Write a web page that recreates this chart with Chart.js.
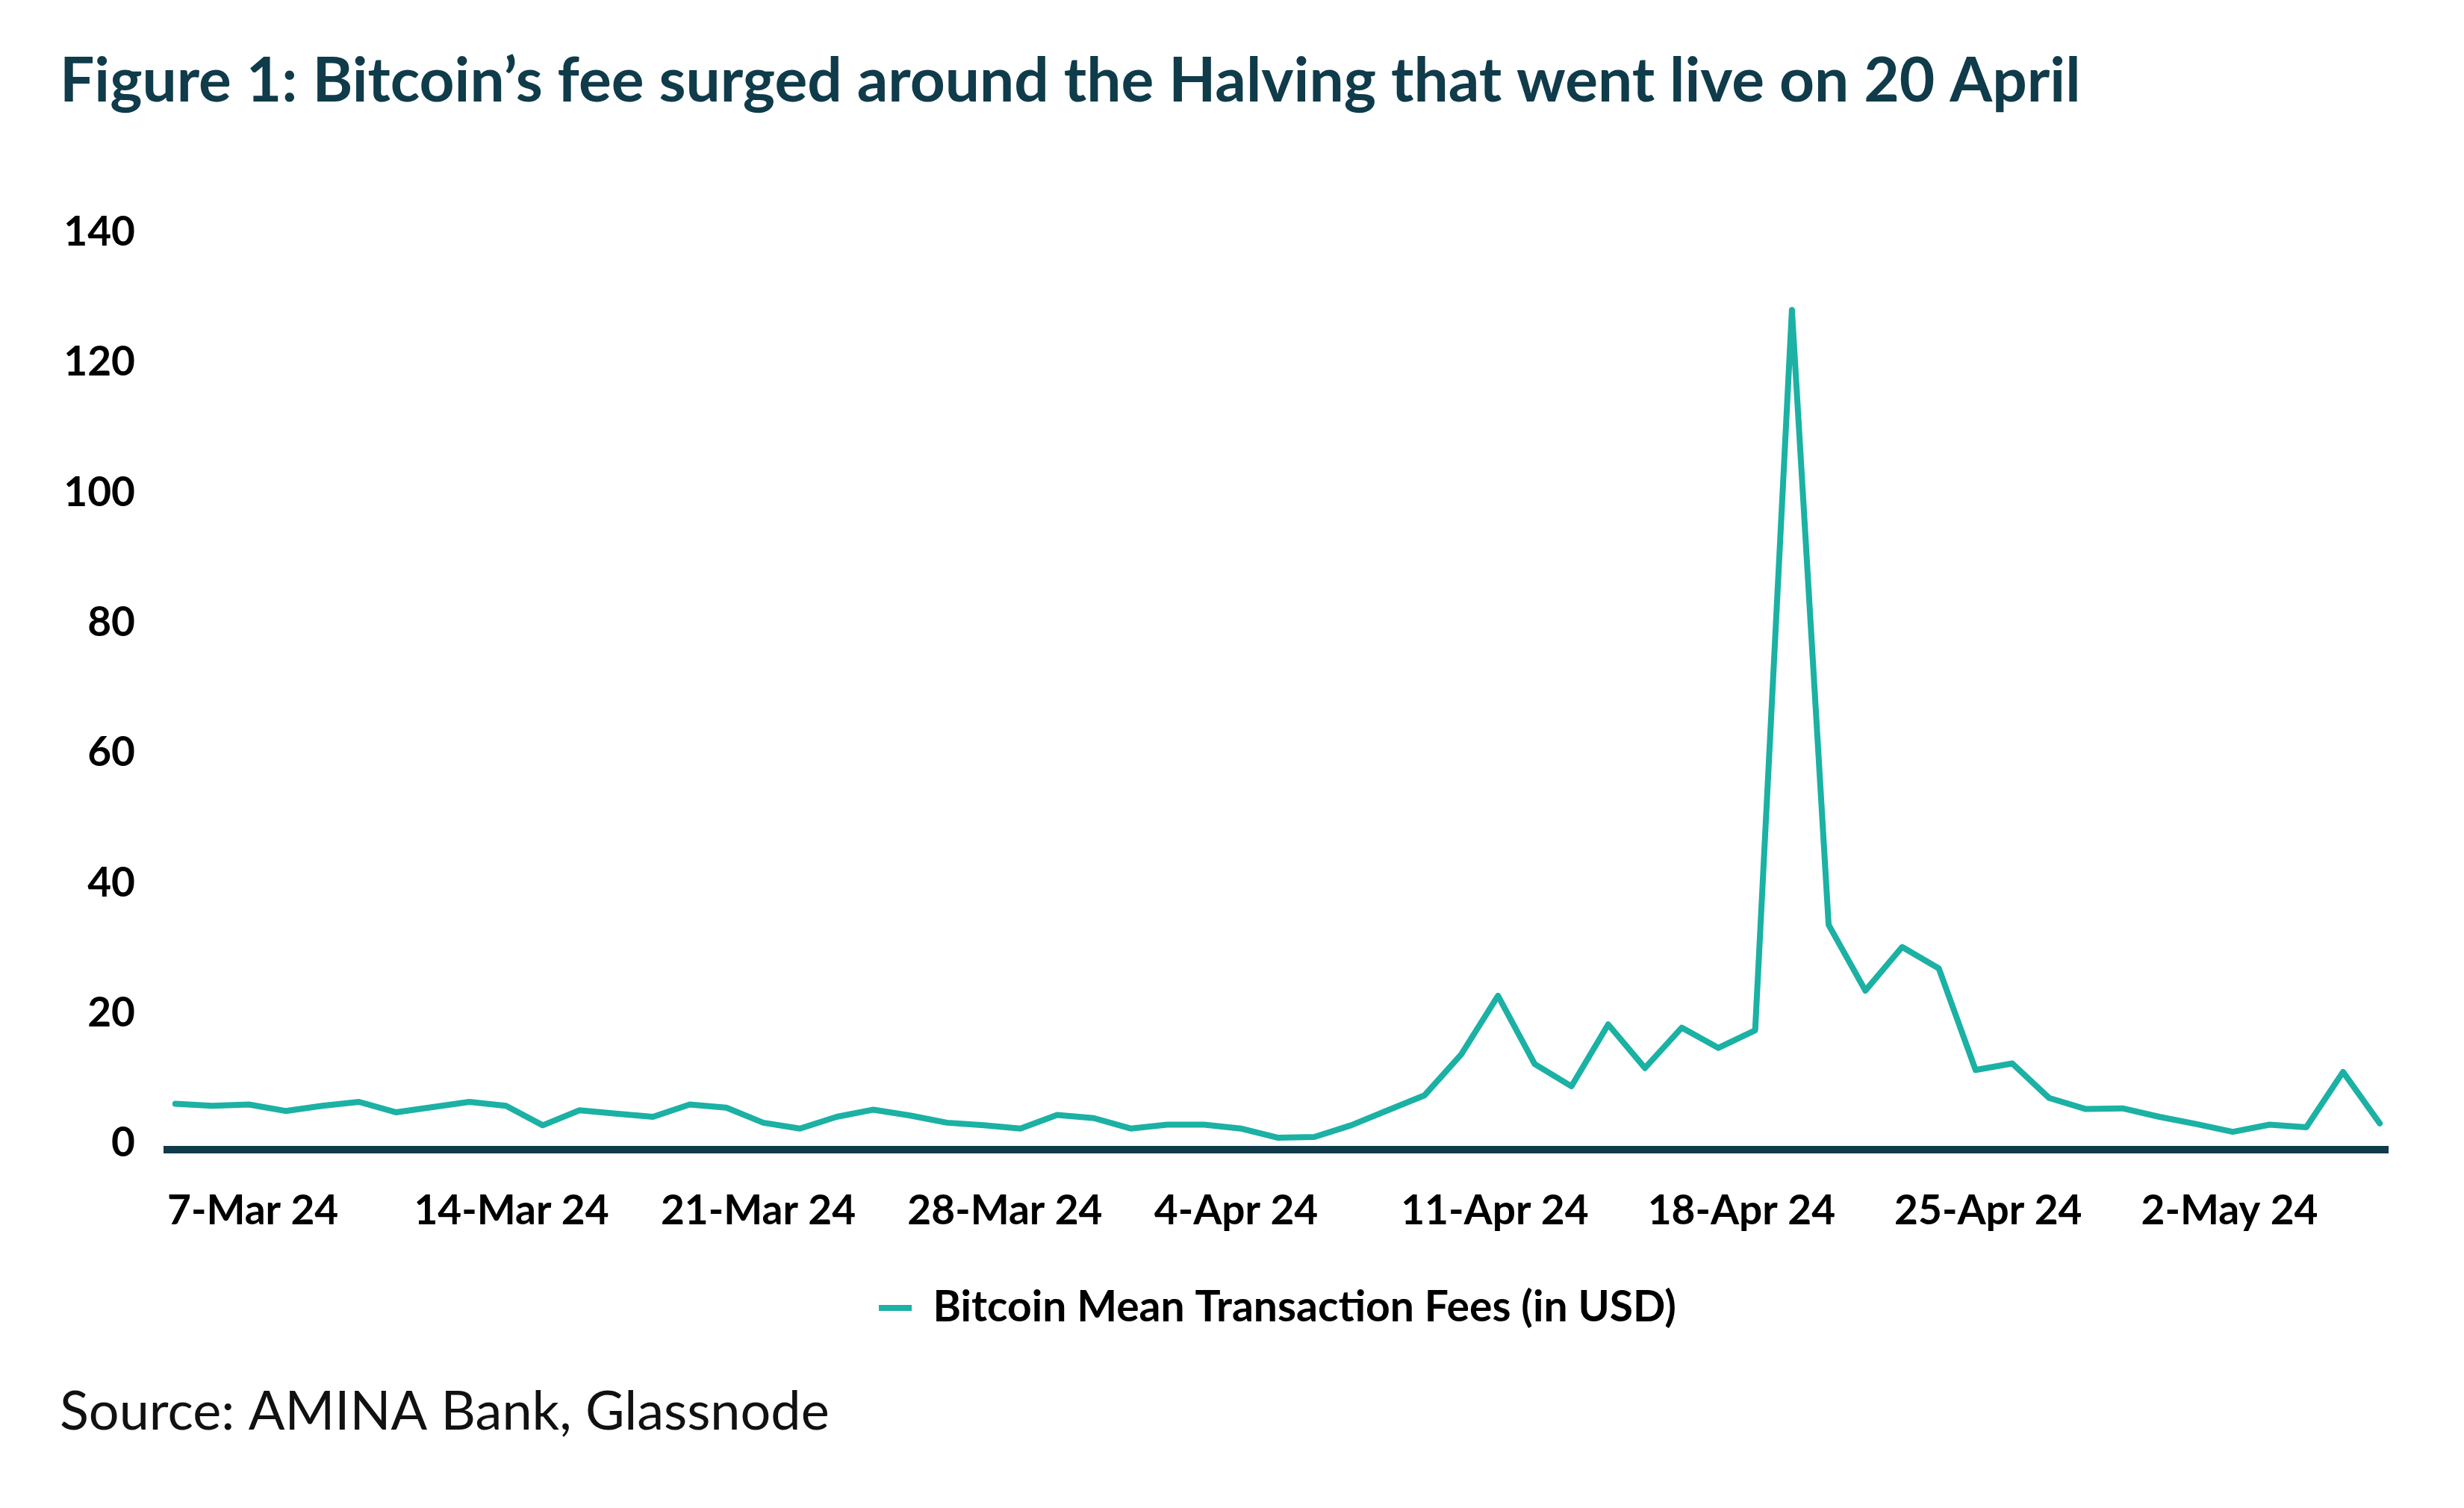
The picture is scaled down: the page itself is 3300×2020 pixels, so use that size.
<!DOCTYPE html>
<html>
<head>
<meta charset="utf-8">
<title>Bitcoin mean transaction fees</title>
<script src="https://cdn.jsdelivr.net/npm/chart.js@4.4.1/dist/chart.umd.min.js"></script>
<style>
  html, body { margin: 0; padding: 0; background: #ffffff; }
  #wrap { width: 3300px; height: 2020px; }
</style>
</head>
<body>
<div id="wrap"><canvas id="feeChart" width="3300" height="2020"></canvas></div>
<script>
// Bitcoin mean transaction fee (USD), one value per point
const feeValues = [
  7.0, 6.7, 6.9, 5.9, 6.7, 7.3, 5.7, 6.5, 7.3, 6.7,
  3.7, 6.0, 5.5, 5.0, 6.9, 6.4, 4.1, 3.2, 5.0, 6.1,
  5.2, 4.1, 3.7, 3.2, 5.3, 4.8, 3.2, 3.8, 3.8, 3.2,
  1.8, 1.9, 3.7, 6.0, 8.3, 14.6, 23.6, 13.1, 9.7, 19.2,
  12.5, 18.7, 15.6, 18.3, 129.0, 34.5, 24.4, 31.1, 27.8, 12.2,
  13.2, 7.9, 6.2, 6.3, 5.0, 3.9, 2.7, 3.8, 3.4, 11.9,
  4.0
];

// weekly date labels under the axis (one every 7 days)
const dateTicks = ["7-Mar 24", "14-Mar 24", "21-Mar 24", "28-Mar 24", "4-Apr 24",
                   "11-Apr 24", "18-Apr 24", "25-Apr 24", "2-May 24"];
const dayCount = 64;          // days covered by the date axis (7-Mar .. 9-May)
const yTicks = [0, 20, 40, 60, 80, 100, 120, 140];

const SERIES_LABEL = "Bitcoin Mean Transaction Fees (in USD)";
const TITLE = "Figure 1: Bitcoin\u2019s fee surged around the Halving that went live on 20 April";
const SOURCE = "Source: AMINA Bank, Glassnode";

const COLORS = {
  line: "#1bb1a4",
  dark: "#0f3b4a",
  text: "#000000"
};
const FONT = "Lato, 'Open Sans', 'DejaVu Sans', sans-serif";

function buildChart() {
  const ctx = document.getElementById("feeChart").getContext("2d");
  const points = feeValues.map((v, i) => ({ x: i, y: v }));

  return new Chart(ctx, {
    type: "line",
    data: {
      datasets: [{
        label: SERIES_LABEL,
        data: points,
        borderColor: COLORS.line,
        backgroundColor: COLORS.line,
        borderWidth: 8,
        borderJoinStyle: "round",
        borderCapStyle: "round",
        pointRadius: 0,
        tension: 0,
        xAxisID: "x",
        yAxisID: "y"
      }]
    },
    options: {
      responsive: false,
      devicePixelRatio: 1,
      animation: false,
      layout: { padding: { left: 80, right: 102, top: 0, bottom: 85 } },
      scales: {
        x: {
          type: "linear",
          display: false,
          min: -0.22,
          max: feeValues.length - 1 + 0.22
        },
        dates: {
          type: "category",
          position: "bottom",
          labels: Array.from({ length: dayCount }, (_, i) => i),
          offset: false,
          grid: { display: false, drawTicks: false },
          border: { display: true, color: COLORS.dark, width: 10 },
          ticks: {
            autoSkip: false,
            minRotation: 0,
            maxRotation: 0,
            align: "start",
            padding: 50,
            color: COLORS.text,
            font: { family: FONT, size: 55, weight: "bold" },
            callback: (val, idx) => (idx % 7 === 0 && dateTicks[idx / 7]) ? dateTicks[idx / 7] : ""
          },
          afterFit: (scale) => { scale.height = 174; }
        },
        y: {
          type: "linear",
          min: yTicks[0],
          max: yTicks[yTicks.length - 1],
          grid: { display: false, drawTicks: false },
          border: { display: false },
          ticks: {
            stepSize: 20,
            padding: 43,
            color: COLORS.text,
            // second empty line lifts the digits a little above the tick, as in the original
            font: { family: FONT, size: 55, weight: "bold", lineHeight: "16px" },
            callback: (val) => [String(val), ""]
          },
          afterBuildTicks: (scale) => { scale.ticks = yTicks.map(v => ({ value: v })); },
          afterFit: (scale) => { scale.width = 144; }
        }
      },
      plugins: {
        title: {
          display: true,
          text: TITLE,
          align: "start",
          color: COLORS.dark,
          font: { family: FONT, size: 82, weight: "bold" },
          padding: { top: 60, bottom: 161 }
        },
        subtitle: {
          display: true,
          text: SOURCE,
          position: "bottom",
          align: "start",
          color: "#111111",
          font: { family: FONT, size: 72, weight: "normal" },
          padding: { top: 58, bottom: 0 }
        },
        legend: {
          display: true,
          position: "bottom",
          fullSize: false,
          labels: {
            usePointStyle: true,
            pointStyle: "line",
            pointStyleWidth: 44,
            padding: 10,
            color: COLORS.text,
            font: { family: FONT, size: 57, weight: "bold" }
          }
        },
        tooltip: { enabled: false }
      }
    }
  });
}

buildChart();
</script>
</body>
</html>
